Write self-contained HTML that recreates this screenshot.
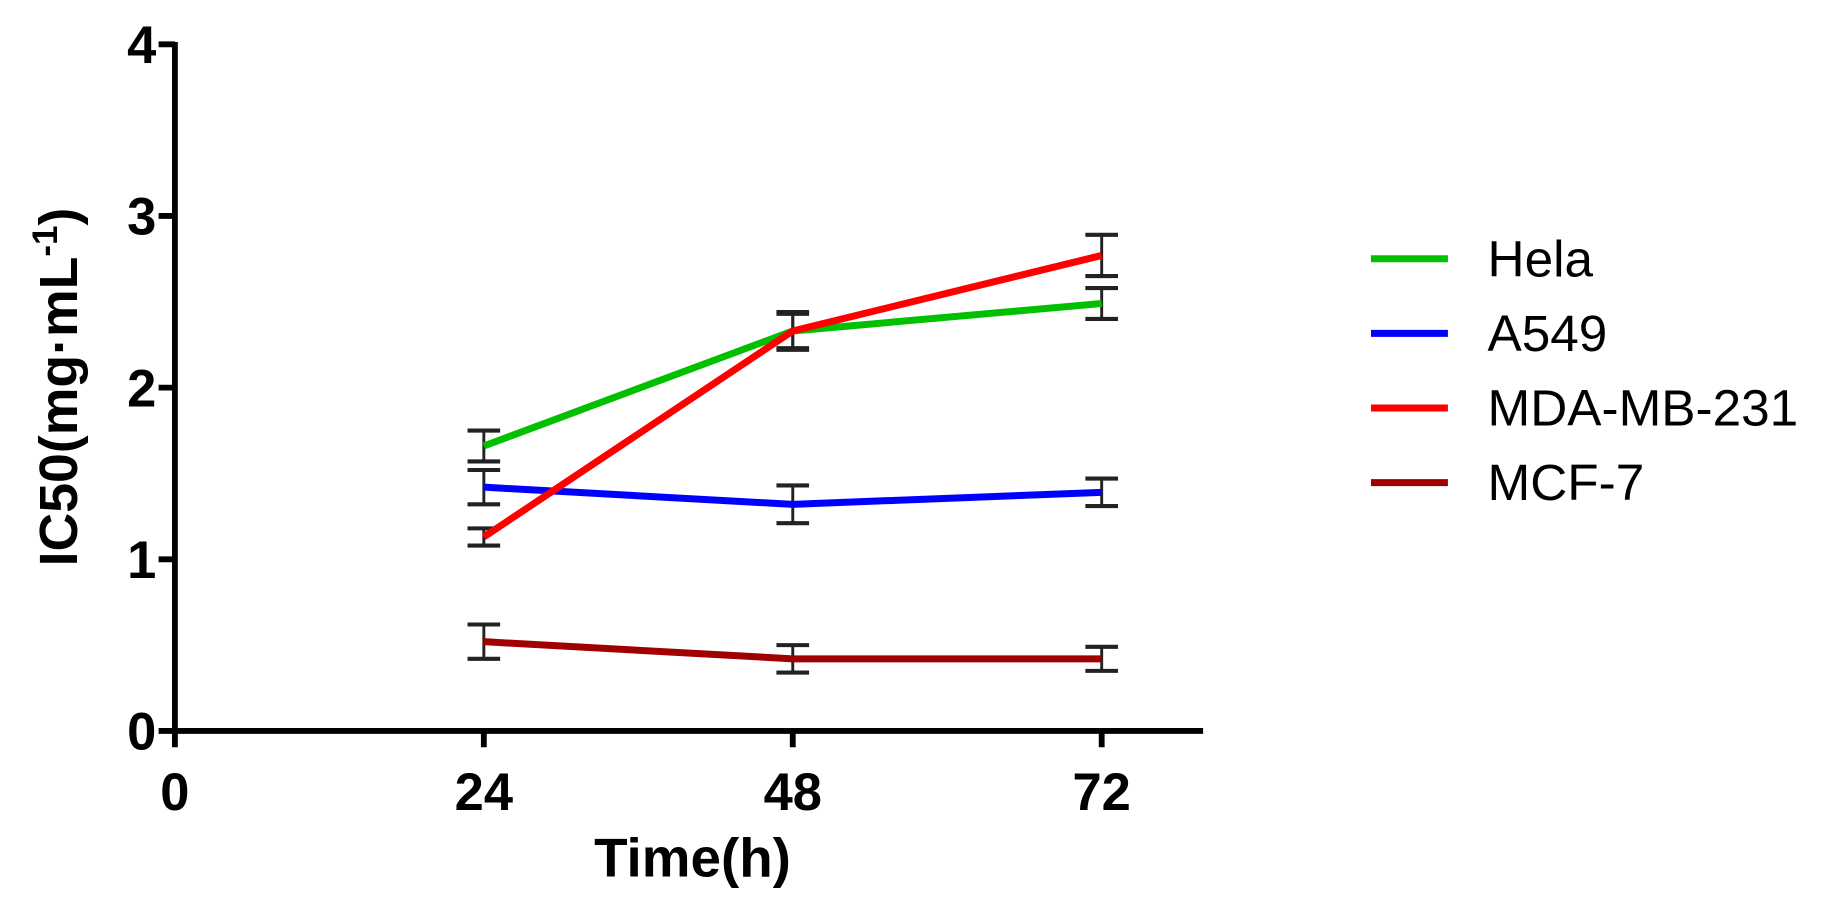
<!DOCTYPE html>
<html><head><meta charset="utf-8"><style>
body{margin:0;background:#fff;}
svg{display:block;font-family:"Liberation Sans",Arial,sans-serif;}
</style></head><body>
<svg id="chart" width="1828" height="903" viewBox="0 0 1568 774.6"></svg>
<script>
const categories=[24,48,72];
const helaVals=[1.66,2.33,2.49], helaErr=[0.09,0.11,0.09];
const a549Vals=[1.42,1.32,1.39], a549Err=[0.1,0.11,0.08];
const mdaVals=[1.13,2.33,2.77], mdaErr=[0.05,0.1,0.12];
const mcfVals=[0.52,0.42,0.42], mcfErr=[0.1,0.08,0.07];
const seriesNames=["Hela","A549","MDA-MB-231","MCF-7"];
const yTicks=[0,1,2,3,4];
const xTicks=[0,24,48,72];
const NS="http://www.w3.org/2000/svg";
const svg=document.getElementById('chart');
const X0=150,Y0=627;
const xs=v=>X0+v*(265/24);
const ys=v=>Y0-v*147.25;
function el(tag,attrs,parent){const e=document.createElementNS(NS,tag);for(const k in attrs)e.setAttribute(k,attrs[k]);(parent||svg).appendChild(e);return e;}
let a=el('line',{x1:X0,y1:ys(4)-2,x2:X0,y2:Y0+2,stroke:'#000','stroke-width':5});


a=el('line',{x1:X0-2,y1:Y0,x2:1032,y2:Y0,stroke:'#000','stroke-width':5});


yTicks.forEach(t=>{
  const tk=el('line',{x1:X0-14,y1:ys(t),x2:X0,y2:ys(t),stroke:'#000','stroke-width':5});
  
  
  const tx=el('text',{x:X0-16,y:ys(t)+16,'text-anchor':'end','font-size':45,'font-weight':'bold'});
  tx.textContent=t;
  
  
});
xTicks.forEach(t=>{
  const tk=el('line',{x1:xs(t),y1:Y0,x2:xs(t),y2:Y0+14,stroke:'#000','stroke-width':5});
  
  
  const tx=el('text',{x:xs(t),y:Y0+68,'text-anchor':'middle','font-size':45,'font-weight':'bold'});
  tx.textContent=t;
  
  
});
let t=el('text',{x:594,y:752,'text-anchor':'middle','font-size':47,'font-weight':'bold'});
t.textContent='Time(h)';


t=el('text',{transform:'translate(66,332) rotate(-90)','text-anchor':'middle','font-size':46,'font-weight':'bold'});
t.innerHTML='IC50(mg·mL<tspan dy="-17" font-size="30">-1</tspan><tspan dy="17">)</tspan>';


const series=[[helaVals,helaErr,'#00c000'],[a549Vals,a549Err,'#0000ff'],[mdaVals,mdaErr,'#ff0000'],[mcfVals,mcfErr,'#a00000']];
series.forEach((s,i)=>{
  const [v,e,c]=s;
  e.forEach((er,j)=>{
    const x=xs(categories[j]);
    const g=el('g',{stroke:'#222','stroke-width':2.5});
    
    
    el('line',{x1:x,y1:ys(v[j]+er),x2:x,y2:ys(v[j]-er)},g);
    el('line',{x1:x-14,y1:ys(v[j]+er),x2:x+14,y2:ys(v[j]+er),'stroke-width':3.5},g);
    el('line',{x1:x-14,y1:ys(v[j]-er),x2:x+14,y2:ys(v[j]-er),'stroke-width':3.5},g);
  });
  const p=el('polyline',{points:v.map((y,j)=>xs(categories[j])+','+ys(y)).join(' '),fill:'none',stroke:c,'stroke-width':6});
  
  
  const ly=222+i*64;
  const ll=el('line',{x1:1176,y1:ly,x2:1242,y2:ly,stroke:c,'stroke-width':6});
  
  
  const lt=el('text',{x:1276,y:ly+15,'font-size':44});
  lt.textContent=seriesNames[i];
  
  
});
</script>
</body></html>
